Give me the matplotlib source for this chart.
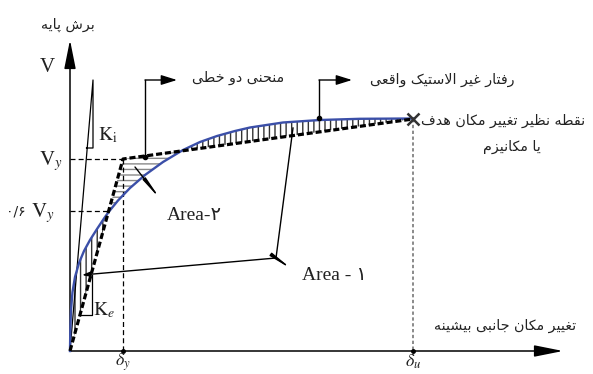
import numpy as np
import matplotlib.pyplot as plt

plt.rcParams['mathtext.fontset'] = 'stix'

# schematic pushover curve, in image pixel units (x right, y down)
curve_x = [70, 70.3, 71, 72.5, 75, 79, 84, 90, 97, 104, 108.6, 118, 130, 145, 163, 183,
           200, 217, 235, 250, 283, 320, 360, 413]
curve_y = [351, 330, 310, 292, 277, 263, 251, 240, 229, 218.5, 212, 200.5, 188, 175, 162, 150,
           142, 136, 131, 127.5, 122.5, 120, 118.8, 118.5]
bilin_x = [70, 123, 413]
bilin_y = [351, 159, 119]
x_origin, y_origin = 70, 351
x_yield, y_yield = 123, 159
x_06, y_06 = 108.6, 211
x_target, y_target = 413, 119

# --- minimal persian shaping (matplotlib draws glyphs left to right, unjoined)
FORMS = {
    '\u0627': ('\uFE8D', '\uFE8E'), '\u0622': ('\uFE81', '\uFE82'),
    '\u062F': ('\uFEA9', '\uFEAA'), '\u0630': ('\uFEAB', '\uFEAC'),
    '\u0631': ('\uFEAD', '\uFEAE'), '\u0632': ('\uFEAF', '\uFEB0'),
    '\u0698': ('\uFB8A', '\uFB8B'), '\u0648': ('\uFEED', '\uFEEE'),
    '\u0628': ('\uFE8F', '\uFE90', '\uFE91', '\uFE92'),
    '\u067E': ('\uFB56', '\uFB57', '\uFB58', '\uFB59'),
    '\u062A': ('\uFE95', '\uFE96', '\uFE97', '\uFE98'),
    '\u062B': ('\uFE99', '\uFE9A', '\uFE9B', '\uFE9C'),
    '\u062C': ('\uFE9D', '\uFE9E', '\uFE9F', '\uFEA0'),
    '\u0686': ('\uFB7A', '\uFB7B', '\uFB7C', '\uFB7D'),
    '\u062D': ('\uFEA1', '\uFEA2', '\uFEA3', '\uFEA4'),
    '\u062E': ('\uFEA5', '\uFEA6', '\uFEA7', '\uFEA8'),
    '\u0633': ('\uFEB1', '\uFEB2', '\uFEB3', '\uFEB4'),
    '\u0634': ('\uFEB5', '\uFEB6', '\uFEB7', '\uFEB8'),
    '\u0635': ('\uFEB9', '\uFEBA', '\uFEBB', '\uFEBC'),
    '\u0636': ('\uFEBD', '\uFEBE', '\uFEBF', '\uFEC0'),
    '\u0637': ('\uFEC1', '\uFEC2', '\uFEC3', '\uFEC4'),
    '\u0638': ('\uFEC5', '\uFEC6', '\uFEC7', '\uFEC8'),
    '\u0639': ('\uFEC9', '\uFECA', '\uFECB', '\uFECC'),
    '\u063A': ('\uFECD', '\uFECE', '\uFECF', '\uFED0'),
    '\u0641': ('\uFED1', '\uFED2', '\uFED3', '\uFED4'),
    '\u0642': ('\uFED5', '\uFED6', '\uFED7', '\uFED8'),
    '\u06A9': ('\uFB8E', '\uFB8F', '\uFB90', '\uFB91'),
    '\u06AF': ('\uFB92', '\uFB93', '\uFB94', '\uFB95'),
    '\u0644': ('\uFEDD', '\uFEDE', '\uFEDF', '\uFEE0'),
    '\u0645': ('\uFEE1', '\uFEE2', '\uFEE3', '\uFEE4'),
    '\u0646': ('\uFEE5', '\uFEE6', '\uFEE7', '\uFEE8'),
    '\u0647': ('\uFEE9', '\uFEEA', '\uFEEB', '\uFEEC'),
    '\u06CC': ('\uFBFC', '\uFBFD', '\uFBFE', '\uFBFF'),
}


def fa(text):
    text = text.replace('\u064A', '\u06CC').replace('\u0643', '\u06A9')
    out = []
    i = 0
    n = len(text)
    while i < n:
        c = text[i]
        if c not in FORMS:
            out.append(c)
            i += 1
            continue
        prev = text[i - 1] if i > 0 else ''
        p = prev in FORMS and len(FORMS[prev]) == 4
        if c == '\u0644' and i + 1 < n and text[i + 1] == '\u0627':
            out.append('\uFEFC' if p else '\uFEFB')  # lam-alef
            i += 2
            continue
        nxt = text[i + 1] if i + 1 < n else ''
        f = FORMS[c]
        q = len(f) == 4 and nxt in FORMS
        if p and q:
            g = f[3]
        elif p:
            g = f[1]
        elif q:
            g = f[2]
        else:
            g = f[0]
        out.append(g)
        i += 1
    return ''.join(out[::-1])


fig = plt.figure(figsize=(5.93, 3.74), dpi=100)
ax = fig.add_axes([0, 0, 1, 1])
ax.set_xlim(0, 593)
ax.set_ylim(374, 0)
ax.axis('off')

FA = dict(family='DejaVu Sans', fontsize=10.3, color='#222222')
SERIF = dict(family='Liberation Serif', color='#222222')

# axes with arrows
axarrow = dict(arrowstyle='-|>,head_length=1.1,head_width=0.22', color='black',
               lw=1.1, shrinkA=0, shrinkB=0, mutation_scale=16)
ax.annotate('', xy=(x_origin, 40), xytext=(x_origin, y_origin), arrowprops=axarrow)
ax.annotate('', xy=(563, y_origin), xytext=(x_origin, y_origin), arrowprops=axarrow)

# hatched areas between curve and bilinear idealisation
xs = np.linspace(x_origin, x_target, 900)
cy = np.interp(xs, curve_x, curve_y)
by = np.interp(xs, bilin_x, bilin_y)
ax.fill_between(xs, cy, by, where=cy < by, interpolate=True, facecolor='none',
                edgecolor='#333333', hatch='|||', linewidth=0, zorder=2)
ax.fill_between(xs, cy, by, where=cy > by, interpolate=True, facecolor='none',
                edgecolor='#888888', hatch='---', linewidth=0, zorder=2)

# guide lines
ax.plot([x_origin, x_yield], [y_yield, y_yield], color='black', lw=0.9, dashes=(4, 2.5))
ax.plot([x_origin, x_06], [y_06, y_06], color='black', lw=0.9, dashes=(4, 2.5))
ax.plot([x_yield, x_yield], [y_yield, y_origin], color='black', lw=0.9, dashes=(4, 2.5))
ax.plot([x_target, x_target], [y_target, y_origin], color='#777777', lw=1.2, dashes=(2, 1.5))
ax.plot([x_yield, x_target], [y_origin, y_origin], 'o', color='black', ms=2.5)

# curves
ax.plot(curve_x, curve_y, color='#3b4fa8', lw=1.7, zorder=3, solid_joinstyle='round')
ax.plot(bilin_x, bilin_y, color='black', lw=2.3, dashes=(1.9, 0.9), zorder=4)
ax.plot(x_target, y_target, 'x', color='#333333', ms=8, mew=1.8, zorder=5)

# stiffness triangles
ax.plot([x_origin, 93, 93, 86.5], [y_origin, 80, 148, 148], color='black', lw=0.9)
ax.plot([80, 92, 92], [315, 315, 275], color='black', lw=0.9)

# leaders
head = dict(arrowstyle='-|>,head_length=0.8,head_width=0.25', color='black', lw=1.0,
            shrinkA=0, shrinkB=0, mutation_scale=12)
small = dict(arrowstyle='-|>,head_length=0.8,head_width=0.25', color='black', lw=1.0,
             shrinkA=0, shrinkB=0, mutation_scale=6)
thick = dict(arrowstyle='-|>,head_length=1.6,head_width=0.12', color='black', lw=1.0,
             shrinkA=0, shrinkB=0, mutation_scale=8)
ax.plot([145, 145], [157, 80], color='black', lw=1.0)
ax.plot(145, 157, 'o', color='black', ms=3, zorder=6)
ax.annotate('', xy=(177, 80), xytext=(145, 80), arrowprops=head)
ax.plot([319, 319], [118, 80], color='black', lw=1.0)
ax.plot(319, 118, 'o', color='black', ms=3, zorder=6)
ax.annotate('', xy=(352, 80), xytext=(319, 80), arrowprops=head)

ax.annotate('', xy=(161, 200), xytext=(135, 167), arrowprops=thick, zorder=6)
ax.plot([276, 293], [258, 128], color='black', lw=1.0, zorder=6)
ax.annotate('', xy=(82, 275), xytext=(276, 258), arrowprops=small, zorder=6)
ax.annotate('', xy=(293, 270), xytext=(276, 258), arrowprops=thick, zorder=6)

# labels
ax.text(68, 25, fa('برش پایه'), ha='center', va='center', **FA)
ax.text(47, 67, 'V', ha='center', va='center', fontsize=15, **SERIF)
ax.text(51, 161, r'$\mathrm{V}_{y}$', ha='center', va='center', fontsize=15, color='#222222')
ax.text(16, 211, '۰/۶', ha='center', va='center', family='DejaVu Sans', fontsize=10,
        color='#222222')
ax.text(43, 213, r'$\mathrm{V}_{y}$', ha='center', va='center', fontsize=15, color='#222222')
ax.text(108, 135, r'$\mathrm{K}_{\mathrm{i}}$', ha='center', va='center', fontsize=14,
        color='#222222')
ax.text(104, 310, r'$\mathrm{K}_{e}$', ha='center', va='center', fontsize=14,
        color='#222222')
ax.text(x_yield, 362, r'$\delta_{y}$', ha='center', va='center', fontsize=13, color='#222222')
ax.text(x_target, 362, r'$\delta_{u}$', ha='center', va='center', fontsize=13, color='#222222')
ax.text(167, 215, 'Area-۲', ha='left', va='center', fontsize=14,
        family=['Liberation Serif', 'DejaVu Sans'], color='#222222')
ax.text(302, 276, 'Area - ۱', ha='left', va='center', fontsize=14,
        family=['Liberation Serif', 'DejaVu Sans'], color='#222222')

ax.text(238, 78, fa('منحنی دو خطی'), ha='center', va='center', **FA)
ax.text(442, 80, fa('رفتار غیر الاستیک واقعی'), ha='center', va='center', **FA)
ax.text(503, 121, fa('نقطه نظیر تغییر مکان هدف'), ha='center', va='center', **FA)
ax.text(512, 147, fa('یا مکانیزم'), ha='center', va='center', **FA)
ax.text(505, 326, fa('تغییر مکان جانبی بیشینه'), ha='center', va='center', **FA)

fig.savefig('out.png', dpi=100)
